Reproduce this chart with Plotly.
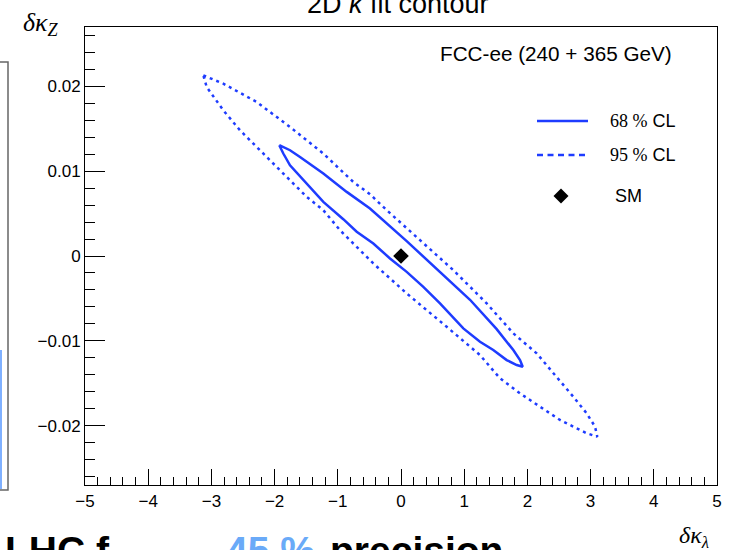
import plotly.graph_objects as go

# ---- data ----
cl68_x = [-1.926, -1.756, -1.598, -1.229, -0.859, -0.491, 0.090, 0.617, 1.092, 1.514, 1.777, 1.883, 1.926,
          1.831, 1.672, 1.460, 1.250, 0.986, 0.617, 0.353, 0.090, -0.174, -0.438, -0.701, -0.913, -1.229,
          -1.492, -1.756, -1.862, -1.926]
cl68_y = [0.01306, 0.01247, 0.01168, 0.00972, 0.00756, 0.00560, 0.00175, -0.00186, -0.00516, -0.00862,
          -0.01109, -0.01226, -0.01306, -0.01286, -0.01227, -0.01109, -0.01011, -0.00853, -0.00559, -0.00363,
          -0.00187, -0.00029, 0.00148, 0.00287, 0.00434, 0.00638, 0.00855, 0.01070, 0.01208, 0.01306]

cl95_x = [-3.128, -2.812, -2.283, -1.756, -1.229, -0.755, -0.491, -0.226, 0.301, 0.828, 1.356, 1.777, 2.147,
          2.464, 2.726, 2.938, 3.070, 3.106, 2.938, 2.726, 2.516, 2.199, 1.883, 1.566, 1.250, 0.723, 0.090,
          -0.438, -0.965, -1.229, -1.492, -1.756, -2.020, -2.283, -2.547, -2.812, -3.074, -3.128]
cl95_y = [0.02130, 0.02032, 0.01816, 0.01521, 0.01208, 0.00873, 0.00729, 0.00540, 0.00187, -0.00167, -0.00559,
          -0.00912, -0.01148, -0.01423, -0.01659, -0.01855, -0.02012, -0.02130, -0.02090, -0.02012, -0.01933,
          -0.01777, -0.01619, -0.01442, -0.01168, -0.00835, -0.00441, -0.00088, 0.00304, 0.00540, 0.00697,
          0.00893, 0.01090, 0.01286, 0.01482, 0.01718, 0.01992, 0.02130]

sm_x = [0.0]
sm_y = [0.0]

x_range = [-5, 5]
y_range = [-0.027, 0.027]

BLUE = "#1e3cff"
SANS = "Liberation Sans"
SERIF = "Liberation Serif"

fig = go.Figure()
fig.add_trace(go.Scatter(x=cl95_x, y=cl95_y, mode="lines",
                         line=dict(color=BLUE, width=2.5, dash="3px,4px"), showlegend=False))
fig.add_trace(go.Scatter(x=cl68_x, y=cl68_y, mode="lines",
                         line=dict(color=BLUE, width=2.5), showlegend=False))
fig.add_trace(go.Scatter(x=sm_x, y=sm_y, mode="markers",
                         marker=dict(symbol="diamond", size=12, color="black"), showlegend=False))

# figure is a bit taller than the 550 px window so the cut-off slide text at the bottom
# lies inside the figure; the window shows the top 550 px
W, H = 729, 600
L, R, T, B = 85, 12, 27, 115
pw, ph = W - L - R, H - T - B


def px(x):
    return (x - L) / pw


def py(y):
    return (H - B - y) / ph


axis_common = dict(showgrid=False, zeroline=False, showline=True, linecolor="black", linewidth=1,
                   mirror=True, ticks="inside", tickcolor="black", automargin=False,
                   tickfont=dict(family=SANS, size=17, color="black"))

fig.update_layout(
    width=W, height=H, margin=dict(l=L, r=R, t=T, b=B, autoexpand=False),
    paper_bgcolor="white", plot_bgcolor="white",
    xaxis=dict(range=x_range, dtick=1, tick0=0, ticklen=16, ticklabelstandoff=1,
               minor=dict(ticks="inside", ticklen=8, dtick=0.2, tickcolor="black", showgrid=False),
               **axis_common),
    yaxis=dict(range=y_range, dtick=0.01, tick0=0, ticklen=20, ticklabelstandoff=0,
               minor=dict(ticks="inside", ticklen=10, dtick=0.002, tickcolor="black", showgrid=False),
               **axis_common),
    showlegend=False,
)

ann = []
# title (cut off at top)
ann.append(dict(text="2D <i>κ</i> fit contour", x=px(398), y=py(21), xref="paper", yref="paper",
                xanchor="center", yanchor="bottom", showarrow=False,
                font=dict(family=SANS, size=27, color="black")))
# FCC-ee label
ann.append(dict(text="FCC-ee (240 + 365 GeV)", x=px(556), y=py(53), xref="paper", yref="paper",
                xanchor="center", yanchor="middle", showarrow=False,
                font=dict(family=SANS, size=20.7, color="black")))
# legend texts
for txt, yy in [("68", 121), ("95", 155)]:
    ann.append(dict(text=f"<span style='font-family:{SERIF}'>{txt} %</span> CL", x=px(608), y=py(yy),
                    xref="paper", yref="paper", xanchor="left", yanchor="middle", showarrow=False,
                    font=dict(family=SANS, size=18, color="black")))
ann.append(dict(text="SM", x=px(613), y=py(196), xref="paper", yref="paper", xanchor="left",
                yanchor="middle", showarrow=False, font=dict(family=SANS, size=18, color="black")))
# axis titles
ann.append(dict(text="<i>δκ<sub>Z</sub></i>", x=px(41), y=py(24), xref="paper", yref="paper",
                xanchor="center", yanchor="middle", showarrow=False,
                font=dict(family=SERIF, size=26, color="black")))
ann.append(dict(text="<i>δκ<sub>λ</sub></i>", x=px(694), y=py(537), xref="paper", yref="paper",
                xanchor="center", yanchor="middle", showarrow=False,
                font=dict(family=SERIF, size=24, color="black")))
# large slide text at the bottom, cut by the window edge
ann.append(dict(text="<b>HL-LHC f</b>", x=px(112), y=py(550), xref="paper", yref="paper",
                xanchor="right", yanchor="middle", showarrow=False,
                font=dict(family=SANS, size=39, color="black")))
ann.append(dict(text="<b>45 %</b>", x=px(224), y=py(550), xref="paper", yref="paper",
                xanchor="left", yanchor="middle", showarrow=False,
                font=dict(family=SANS, size=39, color="#6aaaf8")))
ann.append(dict(text="<b>precision</b>", x=px(328), y=py(550), xref="paper", yref="paper",
                xanchor="left", yanchor="middle", showarrow=False,
                font=dict(family=SANS, size=39, color="black")))
fig.update_layout(annotations=ann)

shapes = []
# manual legend
shapes.append(dict(type="line", xref="paper", yref="paper", x0=px(537), x1=px(588), y0=py(121), y1=py(121),
                   line=dict(color=BLUE, width=2.5)))
shapes.append(dict(type="line", xref="paper", yref="paper", x0=px(537), x1=px(588), y0=py(155), y1=py(155),
                   line=dict(color=BLUE, width=2.5, dash="6px,4.5px")))
cx, cy, hw = 561, 196, 7.5
shapes.append(dict(type="path", xref="paper", yref="paper", fillcolor="black", line=dict(width=0),
                   path=f"M {px(cx-hw)} {py(cy)} L {px(cx)} {py(cy-hw)} L {px(cx+hw)} {py(cy)} "
                        f"L {px(cx)} {py(cy+hw)} Z"))
# partial box at the left edge
shapes.append(dict(type="rect", xref="paper", yref="paper", x0=px(-10), x1=px(8), y0=py(490), y1=py(62),
                   line=dict(color="#666666", width=1.5)))
shapes.append(dict(type="line", xref="paper", yref="paper", x0=px(1), x1=px(1), y0=py(489), y1=py(350),
                   line=dict(color="#7fb0ff", width=2)))
fig.update_layout(shapes=shapes)

fig.write_html("out.html", config={"displayModeBar": False},
               post_script="document.body.style.margin='0';document.body.style.overflow='hidden';")
